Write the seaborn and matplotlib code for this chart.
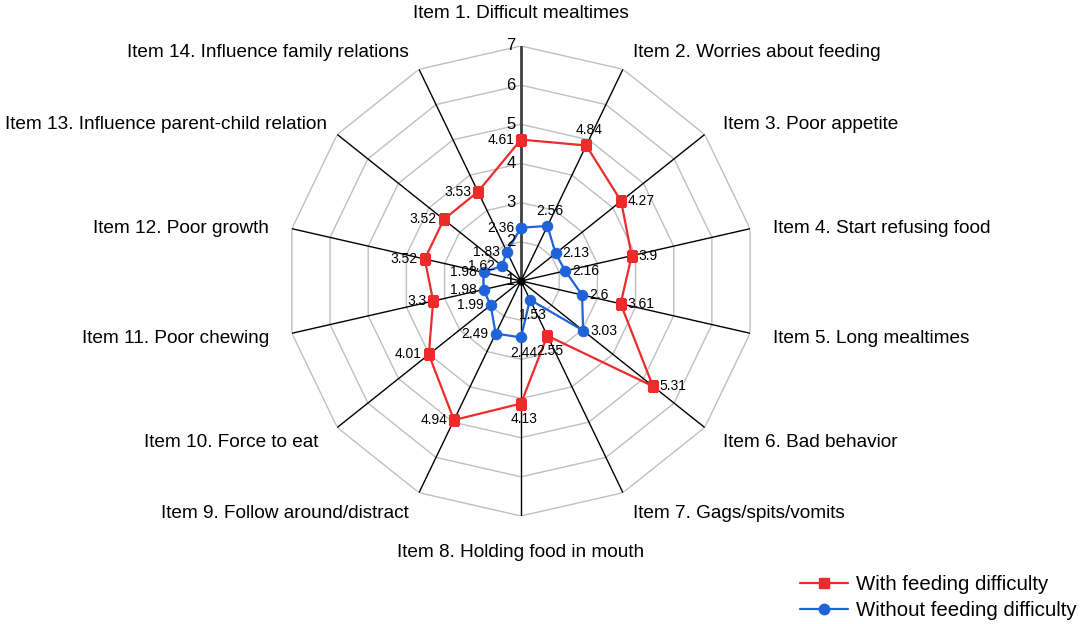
import numpy as np
import pandas as pd
import matplotlib
matplotlib.use("Agg")
import matplotlib.pyplot as plt
import seaborn as sns
from matplotlib.lines import Line2D

items = ["Item 1. Difficult mealtimes", "Item 2. Worries about feeding", "Item 3. Poor appetite",
         "Item 4. Start refusing food", "Item 5. Long mealtimes", "Item 6. Bad behavior",
         "Item 7. Gags/spits/vomits", "Item 8. Holding food in mouth", "Item 9. Follow around/distract",
         "Item 10. Force to eat", "Item 11. Poor chewing", "Item 12. Poor growth",
         "Item 13. Influence parent-child relation", "Item 14. Influence family relations"]
with_fd = [4.61, 4.84, 4.27, 3.9, 3.61, 5.31, 2.55, 4.13, 4.94, 4.01, 3.3, 3.52, 3.52, 3.53]
without_fd = [2.36, 2.56, 2.13, 2.16, 2.6, 3.03, 1.53, 2.44, 2.49, 1.99, 1.98, 1.98, 1.62, 1.83]
series_names = ["With feeding difficulty", "Without feeding difficulty"]
ticks = [1, 2, 3, 4, 5, 6, 7]
# label placement per item: l/r/t/b
with_pos = ["l", "t", "r", "r", "r", "r", "b", "b", "l", "l", "l", "l", "l", "l"]
without_pos = ["l", "t", "r", "r", "r", "r", "b", "b", "l", "l", "l", "l", "l", "l"]

RED = "#ee2b2b"
BLUE = "#1f63d8"

sns.set_style("white")
plt.rcParams["font.family"] = ["Liberation Sans", "DejaVu Sans"]
plt.rcParams["text.color"] = "black"

n = len(items)
angles = np.arange(n) * 2 * np.pi / n
closed = np.append(angles, 2 * np.pi)

frames = []
for name, vals in zip(series_names, [with_fd, without_fd]):
    frames.append(pd.DataFrame({"theta": closed,
                                "value": list(vals) + [vals[0]],
                                "group": name}))
df = pd.concat(frames, ignore_index=True)

fig = plt.figure(figsize=(10.84, 6.24), dpi=100)
ax = fig.add_axes([0.2638, 0.1731, 0.4336, 0.7532], projection="polar")
ax.set_theta_zero_location("N")
ax.set_theta_direction(-1)
ax.set_ylim(1, 7)
ax.grid(False)
ax.spines["polar"].set_visible(False)
ax.set_xticks([])
ax.set_yticks([])
ax.set_facecolor("none")

# polygon gridlines
for t in ticks[1:]:
    ax.plot(closed, [t] * (n + 1), color="#bfbfbf", lw=1.0, zorder=1)
# spokes
for i, a in enumerate(angles):
    if i == 0:
        ax.plot([a, a], [1, 7], color="#404040", lw=2.0, zorder=2)
    else:
        ax.plot([a, a], [1, 7], color="black", lw=1.0, zorder=2)
ax.plot([0], [1], marker="o", color="black", ms=5, zorder=2)

sns.lineplot(data=df, x="theta", y="value", hue="group", style="group",
             hue_order=series_names, style_order=series_names,
             palette=[RED, BLUE], markers=["s", "o"], dashes=False,
             sort=False, estimator=None, lw=1.6, ax=ax, legend=False, zorder=3)
for line in ax.lines[-2:]:
    line.set_markeredgecolor(line.get_color())
ax.lines[-2].set_markersize(6.5)
ax.lines[-1].set_markersize(7.5)
ax.set_xlabel("")
ax.set_ylabel("")

# tick labels
for t in ticks:
    ax.annotate(str(t), (0, t), xytext=(-4, 0), textcoords="offset points",
                ha="right", va="center", fontsize=12, zorder=4)

# data labels
offs = {"l": ((-5, 0), "right", "center"), "r": ((5, 0), "left", "center"),
        "t": ((2, 6), "center", "bottom"), "b": ((2, -6), "center", "top")}
for vals, poss in [(with_fd, with_pos), (without_fd, without_pos)]:
    for a, v, p in zip(angles, vals, poss):
        (dx, dy), ha, va = offs[p]
        ax.annotate(f"{v:g}", (a, v), xytext=(dx, dy), textcoords="offset points",
                    ha=ha, va=va, fontsize=10, zorder=5)

# category labels
cat_texts = []
for a, lab in zip(angles, items):
    s, c = np.sin(a), np.cos(a)
    if abs(s) < 0.01:
        ha, r, dy = "center", (7.82 if c > 0 else 7.92), 0
    else:
        ha, r = ("left" if s > 0 else "right"), 7.6
        dy = -3.5 if c > 0 else 0
    t = ax.annotate(lab, (a, r), xytext=(0, dy), textcoords="offset points",
                    ha=ha, va="center", fontsize=13.7, annotation_clip=False)
    cat_texts.append(t)

handles = [Line2D([], [], color=RED, marker="s", ms=6.5, lw=1.6, mec=RED),
           Line2D([], [], color=BLUE, marker="o", ms=7.5, lw=1.6, mec=BLUE)]
fig.legend(handles, series_names, loc="lower right", bbox_to_anchor=(1077 / 1084, 4 / 624),
           frameon=False, fontsize=14.7, handlelength=2.35, handletextpad=0.4,
           labelspacing=0.35, borderaxespad=0, borderpad=0)

# keep labels inside the figure (nudge like the original)
fig.canvas.draw()
renderer = fig.canvas.get_renderer()
W = fig.bbox.width
for t in cat_texts:
    bb = t.get_window_extent(renderer)
    x_off, y_off = t.xyann
    if bb.x0 < 5:
        t.xyann = (x_off + (5 - bb.x0) * 72 / fig.dpi, y_off)
    elif bb.x1 > W - 5:
        t.xyann = (x_off + (W - 5 - bb.x1) * 72 / fig.dpi, y_off)

fig.savefig("out.png", dpi=100, facecolor="white")
